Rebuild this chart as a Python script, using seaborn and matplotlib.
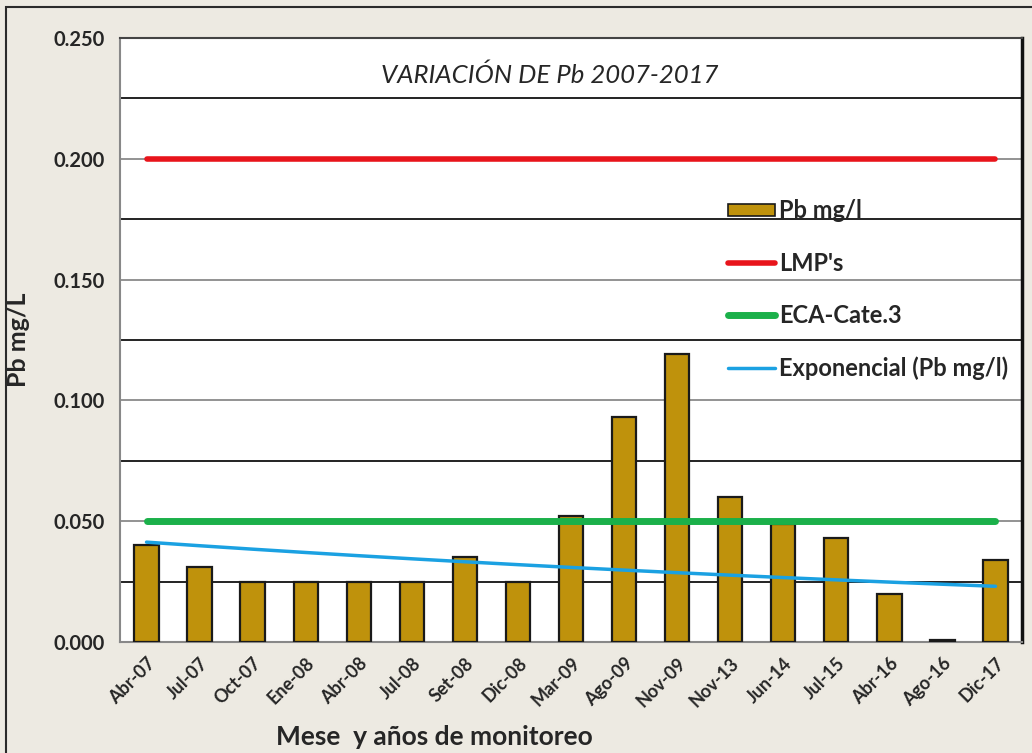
import numpy as np
import pandas as pd
import matplotlib
matplotlib.use("Agg")
import matplotlib.pyplot as plt
import seaborn as sns
from matplotlib.patches import Patch, Rectangle
from matplotlib.lines import Line2D

# ---- data ----
meses = ["Abr-07", "Jul-07", "Oct-07", "Ene-08", "Abr-08", "Jul-08", "Set-08", "Dic-08",
         "Mar-09", "Ago-09", "Nov-09", "Nov-13", "Jun-14", "Jul-15", "Abr-16", "Ago-16", "Dic-17"]
pb = [0.040, 0.031, 0.025, 0.025, 0.025, 0.025, 0.035, 0.025,
      0.052, 0.093, 0.119, 0.060, 0.049, 0.043, 0.020, 0.001, 0.034]
lmp = 0.200
eca = 0.050
y_ticks = [0.000, 0.050, 0.100, 0.150, 0.200, 0.250]

sns.set_theme(style="white")
plt.rcParams['font.family'] = ['Lato', 'DejaVu Sans']

df = pd.DataFrame({"mes": meses, "pb": pb})
pos = np.arange(len(meses))

# exponential trend (least squares on log values, as in a spreadsheet trendline)
b, a = np.polyfit(pos, np.log(df["pb"]), 1)
trend = np.exp(a + b * pos)

fig = plt.figure(figsize=(10.32, 7.53), dpi=100)
fig.patch.set_facecolor("#EDEAE2")
fig.patches.append(Rectangle((6 / 1032, -0.01), 1.0, (753 - 7) / 753 + 0.01,
                             transform=fig.transFigure, fill=False,
                             edgecolor="#2b2b2b", linewidth=1.5, zorder=0))
ax = fig.add_axes([120 / 1032, (753 - 642) / 753, 902 / 1032, 604 / 753])
ax.set_facecolor("white")

sns.barplot(data=df, x="mes", y="pb", ax=ax, color="#BF920C", saturation=1,
            width=0.46, edgecolor="#1a1a1a", linewidth=1.6, zorder=3)

sns.lineplot(x=pos, y=[lmp] * len(pos), ax=ax, color="#E8141B", linewidth=4,
             solid_capstyle="round", zorder=4)
sns.lineplot(x=pos, y=[eca] * len(pos), ax=ax, color="#1BB04A", linewidth=5,
             solid_capstyle="round", zorder=4)
sns.lineplot(x=pos, y=trend, ax=ax, color="#1BA1E2", linewidth=2.5, zorder=5)

ax.set_xlim(-0.5, len(meses) - 0.5)
ax.set_ylim(0, 0.25)
ax.set_yticks(y_ticks)
ax.set_yticklabels([f"{v:.3f}" for v in y_ticks], fontsize=14.5, fontweight="bold")
ax.set_yticks(np.array(y_ticks[:-1]) + 0.025, minor=True)
ax.grid(False)
ax.yaxis.grid(True, which="major", color="#8a8a8a", linewidth=1.3, zorder=1)
ax.yaxis.grid(True, which="minor", color="#111111", linewidth=1.3, zorder=1)
ax.set_axisbelow(True)
ax.tick_params(axis="both", which="both", length=0)
ax.tick_params(axis="y", pad=11)

ax.set_xticks(pos)
ax.set_xticklabels(meses, rotation=45, ha="right", rotation_mode="anchor",
                   fontsize=13, fontweight="bold")
ax.tick_params(axis="x", pad=9)

for s in ["left", "bottom"]:
    ax.spines[s].set_color("#888888")
    ax.spines[s].set_linewidth(1.5)
ax.spines["top"].set_color("#444444")
ax.spines["top"].set_linewidth(1.5)
ax.spines["right"].set_color("#111111")
ax.spines["right"].set_linewidth(2.5)

ax.set_ylabel("Pb mg/L", fontsize=18, fontweight="bold")
ax.yaxis.set_label_coords(-0.100, 0.5)
ax.set_xlabel("Mese  y años de monitoreo", fontsize=19, fontweight="bold")
ax.xaxis.set_label_coords(0.349, -0.138)

ax.text(0.476, 0.939, "VARIACIÓN DE Pb 2007-2017", transform=ax.transAxes,
        ha="center", va="center", fontsize=18.5, fontstyle="italic")

handles = [Patch(facecolor="#BF920C", edgecolor="#1a1a1a", linewidth=1.2),
           Line2D([], [], color="#E8141B", linewidth=4),
           Line2D([], [], color="#1BB04A", linewidth=5),
           Line2D([], [], color="#1BA1E2", linewidth=2.5)]
labels = ["Pb mg/l", "LMP's", "ECA-Cate.3", "Exponencial (Pb mg/l)"]
leg = ax.legend(handles, labels, loc="upper left", bbox_to_anchor=(0.674, 0.733),
                frameon=False, prop={"size": 17, "weight": "bold"},
                handlelength=2.0, handleheight=0.45, handletextpad=0.15,
                labelspacing=1.24, borderpad=0, borderaxespad=0)

fig.savefig("out.png", dpi=100, facecolor=fig.get_facecolor())
